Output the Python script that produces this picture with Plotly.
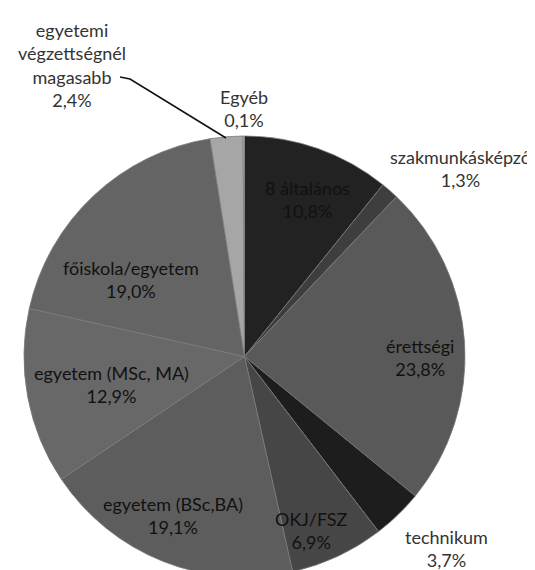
import plotly.graph_objects as go

# ---- data ----
categories = ["8 általános", "szakmunkásképző", "érettségi", "technikum", "OKJ/FSZ",
              "egyetem (BSc,BA)", "egyetem (MSc, MA)", "főiskola/egyetem",
              "egyetemi<br>végzettségnél<br>magasabb", "Egyéb"]
values = [10.8, 1.3, 23.8, 3.7, 6.9, 19.1, 12.9, 19.0, 2.4, 0.1]

# ---- style ----
slice_colors = ["#222222", "#3e3e3e", "#595959", "#1d1d1d", "#464646",
                "#5d5d5d", "#686868", "#646464", "#a6a6a6", "#c8c8c8"]
W, H = 535, 570
# label block centres (pixels) – layout only
label_pos = [(299, 192), (452, 160), (412, 349), (438, 540), (303, 522),
             (165, 507), (103, 376), (123, 272), (64, 57), (236, 100)]
label_colors = ["#111111", "#333333", "#111111", "#333333", "#111111",
                "#111111", "#111111", "#111111", "#333333", "#333333"]
FONT = "Lato, 'Open Sans', sans-serif"

def fmt(v):
    return f"{v:.1f}".replace(".", ",") + "%"

fig = go.Figure(go.Pie(
    labels=[c.replace("<br>", " ") for c in categories],
    values=values,
    sort=False,
    direction="clockwise",
    rotation=0,
    textinfo="none",
    hoverinfo="label+percent",
    marker=dict(colors=slice_colors, line=dict(color="#7a7a7a", width=0.8)),
    domain=dict(x=[16 / W, 457 / W], y=[1 - 569 / H, 1 - 128 / H]),
    showlegend=False,
))

for cat, v, (px, py), col in zip(categories, values, label_pos, label_colors):
    fig.add_annotation(
        x=px / W, y=1 - py / H, xref="paper", yref="paper",
        text=f"{cat}<br>{fmt(v)}", showarrow=False,
        xanchor="center", yanchor="middle", align="center",
        font=dict(family=FONT, size=18, color=col),
    )

# leader line for the small slice label
pts = [(112, 69), (122, 71), (218, 130)]
path = "M " + " L ".join(f"{x / W},{1 - y / H}" for x, y in pts)
fig.add_shape(type="path", path=path, xref="paper", yref="paper",
              line=dict(color="#111111", width=1.6))

fig.update_layout(
    width=W, height=H,
    margin=dict(l=0, r=0, t=0, b=0),
    paper_bgcolor="white", plot_bgcolor="white",
    font=dict(family=FONT),
)

fig.write_html("out.html")
